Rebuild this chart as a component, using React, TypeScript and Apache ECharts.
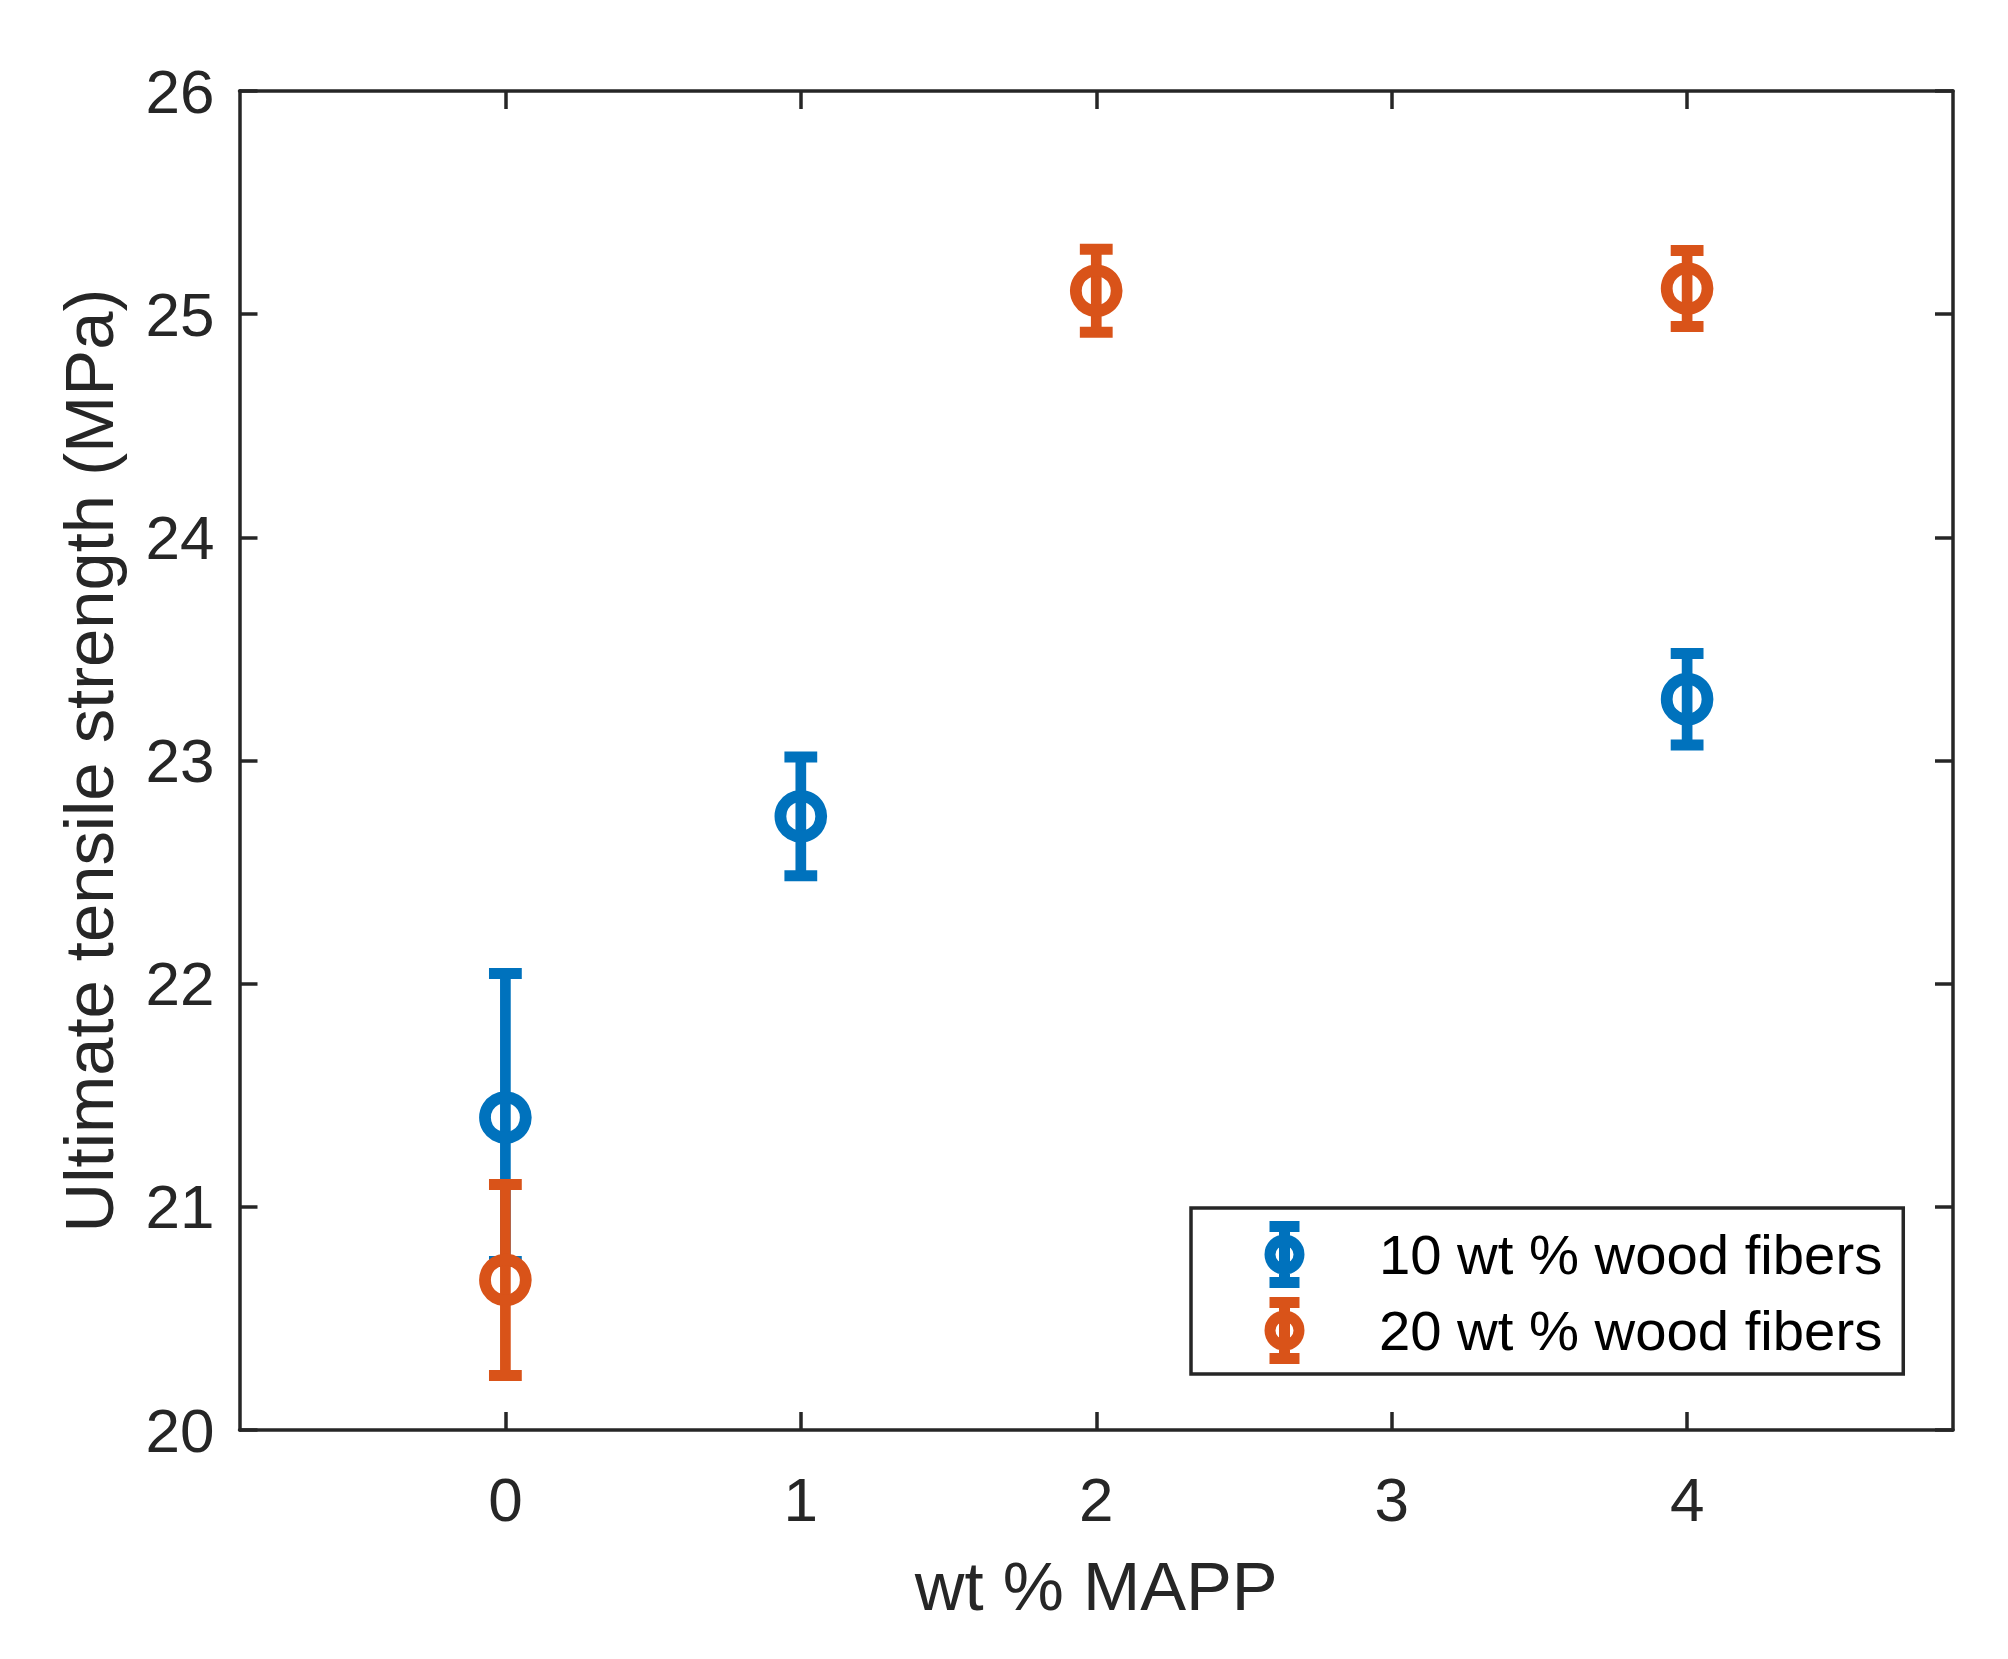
import React, { useEffect, useRef } from "react";
import * as echarts from "echarts";

const FONT = '"Liberation Sans", Arial, Helvetica, sans-serif';
const INK = "#262626";

const X_LABEL = "wt % MAPP";
const Y_LABEL = "Ultimate tensile strength (MPa)";
const X_TICKS = [0, 1, 2, 3, 4];
const X_MIN = -0.9;
const X_MAX = 4.9;
const Y_MIN = 20;
const Y_MAX = 26;
const Y_STEP = 1;

const SERIES_NAMES = ["10 wt % wood fibers", "20 wt % wood fibers"];
const SERIES_COLORS = ["#0072BD", "#D95319"];

// 10 wt % wood fibers
const X_10 = [0, 1, 4];
const MEAN_10 = [21.4, 22.75, 23.275];
const ERR_10 = [0.645, 0.266, 0.205];

// 20 wt % wood fibers
const X_20 = [0, 2, 4];
const MEAN_20 = [20.672, 25.105, 25.115];
const ERR_20 = [0.428, 0.186, 0.17];

const LEGEND_ICON =
  "path://M0,-28L0,28M-15,-28L15,-28M-15,28L15,28M14.5,0A14.5,14.5,0,1,1,-14.5,0A14.5,14.5,0,1,1,14.5,0Z";

function makeRenderItem(color: string) {
  return (params: any, api: any) => {
    const x = api.value(0);
    const y = api.value(1);
    const e = api.value(2);
    const c = api.coord([x, y]);
    const hi = api.coord([x, y + e]);
    const lo = api.coord([x, y - e]);
    const capHalf = 16.4;
    return {
      type: "group",
      children: [
        {
          type: "line",
          shape: { x1: c[0], y1: hi[1], x2: c[0], y2: lo[1] },
          style: { stroke: color, lineWidth: 10.7 },
        },
        {
          type: "line",
          shape: { x1: c[0] - capHalf, y1: hi[1], x2: c[0] + capHalf, y2: hi[1] },
          style: { stroke: color, lineWidth: 11 },
        },
        {
          type: "line",
          shape: { x1: c[0] - capHalf, y1: lo[1], x2: c[0] + capHalf, y2: lo[1] },
          style: { stroke: color, lineWidth: 11 },
        },
        {
          type: "circle",
          shape: { cx: c[0], cy: c[1], r: 20.4 },
          style: { fill: "none", stroke: color, lineWidth: 11.8 },
        },
      ],
    };
  };
}

export default function App() {
  const ref = useRef<HTMLDivElement>(null);

  useEffect(() => {
    if (!ref.current) return;
    const chart = echarts.init(ref.current, undefined, { renderer: "svg" });

    const axisLine = { show: true, onZero: false, lineStyle: { color: INK, width: 3.5 } };
    const tick = { show: true, inside: true, length: 18, lineStyle: { color: INK, width: 3.5 } };

    const data10 = X_10.map((x, i) => [x, MEAN_10[i], ERR_10[i]]);
    const data20 = X_20.map((x, i) => [x, MEAN_20[i], ERR_20[i]]);

    const option: any = {
      animation: false,
      backgroundColor: "#ffffff",
      grid: {
        left: 239.5,
        top: 91,
        right: 55,
        bottom: 229,
        containLabel: false,
        outerBoundsMode: "none",
      },
      xAxis: [
        {
          type: "value",
          min: X_MIN,
          max: X_MAX,
          position: "bottom",
          axisLine,
          axisTick: { ...tick, customValues: X_TICKS },
          axisLabel: {
            customValues: X_TICKS,
            color: INK,
            fontSize: 62,
            fontFamily: FONT,
            margin: 38,
          },
          splitLine: { show: false },
          name: X_LABEL,
          nameLocation: "middle",
          nameGap: 122,
          nameTextStyle: { color: INK, fontSize: 68.75, fontFamily: FONT },
        },
        {
          type: "value",
          min: X_MIN,
          max: X_MAX,
          position: "top",
          axisLine,
          axisTick: { ...tick, customValues: X_TICKS },
          axisLabel: { show: false },
          splitLine: { show: false },
        },
      ],
      yAxis: [
        {
          type: "value",
          min: Y_MIN,
          max: Y_MAX,
          interval: Y_STEP,
          position: "left",
          axisLine,
          axisTick: tick,
          axisLabel: {
            color: INK,
            fontSize: 62,
            fontFamily: FONT,
            margin: 25,
            padding: [8, 0, 0, 0],
          },
          splitLine: { show: false },
          name: Y_LABEL,
          nameLocation: "middle",
          nameGap: 116,
          nameTextStyle: { color: INK, fontSize: 68.75, fontFamily: FONT },
        },
        {
          type: "value",
          min: Y_MIN,
          max: Y_MAX,
          interval: Y_STEP,
          position: "right",
          axisLine,
          axisTick: tick,
          axisLabel: { show: false },
          splitLine: { show: false },
        },
      ],
      legend: {
        orient: "vertical",
        left: 1191,
        top: 1208,
        padding: [13, 21, 10, 73],
        itemGap: 9,
        itemWidth: 178.8,
        itemHeight: 56,
        backgroundColor: "#ffffff",
        borderColor: INK,
        borderWidth: 3.5,
        borderRadius: 0,
        selectedMode: false,
        textStyle: { fontSize: 56.25, color: "#000000", fontFamily: FONT },
        data: SERIES_NAMES.map((n, i) => ({
          name: n,
          icon: LEGEND_ICON,
          itemStyle: {
            color: "transparent",
            borderColor: SERIES_COLORS[i],
            borderWidth: 11,
          },
        })),
      },
      series: [
        {
          type: "custom",
          name: SERIES_NAMES[0],
          xAxisIndex: 0,
          yAxisIndex: 0,
          clip: false,
          itemStyle: { color: SERIES_COLORS[0] },
          encode: { x: 0, y: 1 },
          renderItem: makeRenderItem(SERIES_COLORS[0]),
          data: data10,
        },
        {
          type: "custom",
          name: SERIES_NAMES[1],
          xAxisIndex: 0,
          yAxisIndex: 0,
          clip: false,
          itemStyle: { color: SERIES_COLORS[1] },
          encode: { x: 0, y: 1 },
          renderItem: makeRenderItem(SERIES_COLORS[1]),
          data: data20,
        },
      ],
    };

    chart.setOption(option);
    return () => chart.dispose();
  }, []);

  return (
    <div
      ref={ref}
      style={{ position: "fixed", left: 0, top: 0, width: 2008, height: 1659, background: "#fff" }}
    />
  );
}
